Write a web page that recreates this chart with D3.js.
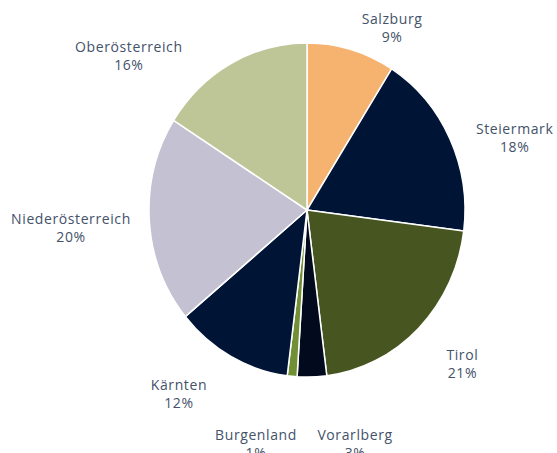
<!doctype html>
<meta charset="utf8">
<style>
  body { margin: 0; background: #fff; }
  svg { display: block; }
  .label { font-family: "Open Sans", sans-serif; font-size: 14px; letter-spacing: 0.6px; fill: #44526a; }
</style>

<body>
<div id="chart"></div>

<script src="https://d3js.org/d3.v7.min.js"></script>

<script>
(function() {

const regions = ["Salzburg", "Steiermark", "Tirol", "Vorarlberg", "Burgenland", "Kärnten", "Niederösterreich", "Oberösterreich"];
const shares = [9, 18, 21, 3, 1, 12, 20, 16];
const colors = ["#f6b26f", "#001435", "#475621", "#020a1d", "#718f35", "#001435", "#c4c2d2", "#bec597"];

// label layout: angle shift from the slice middle (degrees) and distance from the centre
const labelShift = [10.7, 8.3, -1, -10.2, 7.3, 6.8, -1.6, -22.9];
const labelRadius = [188, 217, 216, 231, 232, 220, 237, 227];

const WIDTH = 557;
const HEIGHT = 453;
const CX = 307;
const CY = 210;
const RADIUS = 158;
const STRETCH = 1.058;

const data = regions.map((name, i) => ({name, value: shares[i], color: colors[i], i}));

const svg = d3.select("#chart").append("svg")
  .attr("width", WIDTH)
  .attr("height", HEIGHT);

const g = svg.append("g")
  .attr("transform", `translate(${CX},${CY}) scale(1,${STRETCH})`);

const pie = d3.pie()
  .sort(null)
  .value(d => d.value);

const arc = d3.arc()
  .innerRadius(0)
  .outerRadius(RADIUS);

const arcs = pie(data);

g.selectAll("path")
  .data(arcs)
  .join("path")
    .attr("d", arc)
    .attr("fill", d => d.data.color)
    .attr("stroke", "#fff")
    .attr("stroke-width", 1.5)
    .attr("stroke-linejoin", "round");

function labelPos(d) {
  const mid = (d.startAngle + d.endAngle) / 2 + labelShift[d.data.i] * Math.PI / 180;
  const r = labelRadius[d.data.i];
  return [r * Math.sin(mid), -r * Math.cos(mid)];
}

const labels = g.selectAll(".label")
  .data(arcs)
  .join("text")
    .attr("class", "label")
    .attr("text-anchor", "middle")
    .attr("transform", d => `translate(${labelPos(d)})`);

labels.append("tspan")
  .attr("x", 0)
  .attr("y", -8.5)
  .text(d => d.data.name);

labels.append("tspan")
  .attr("x", 0)
  .attr("y", 8.5)
  .text(d => `${d.data.value}%`);

})();
</script>
